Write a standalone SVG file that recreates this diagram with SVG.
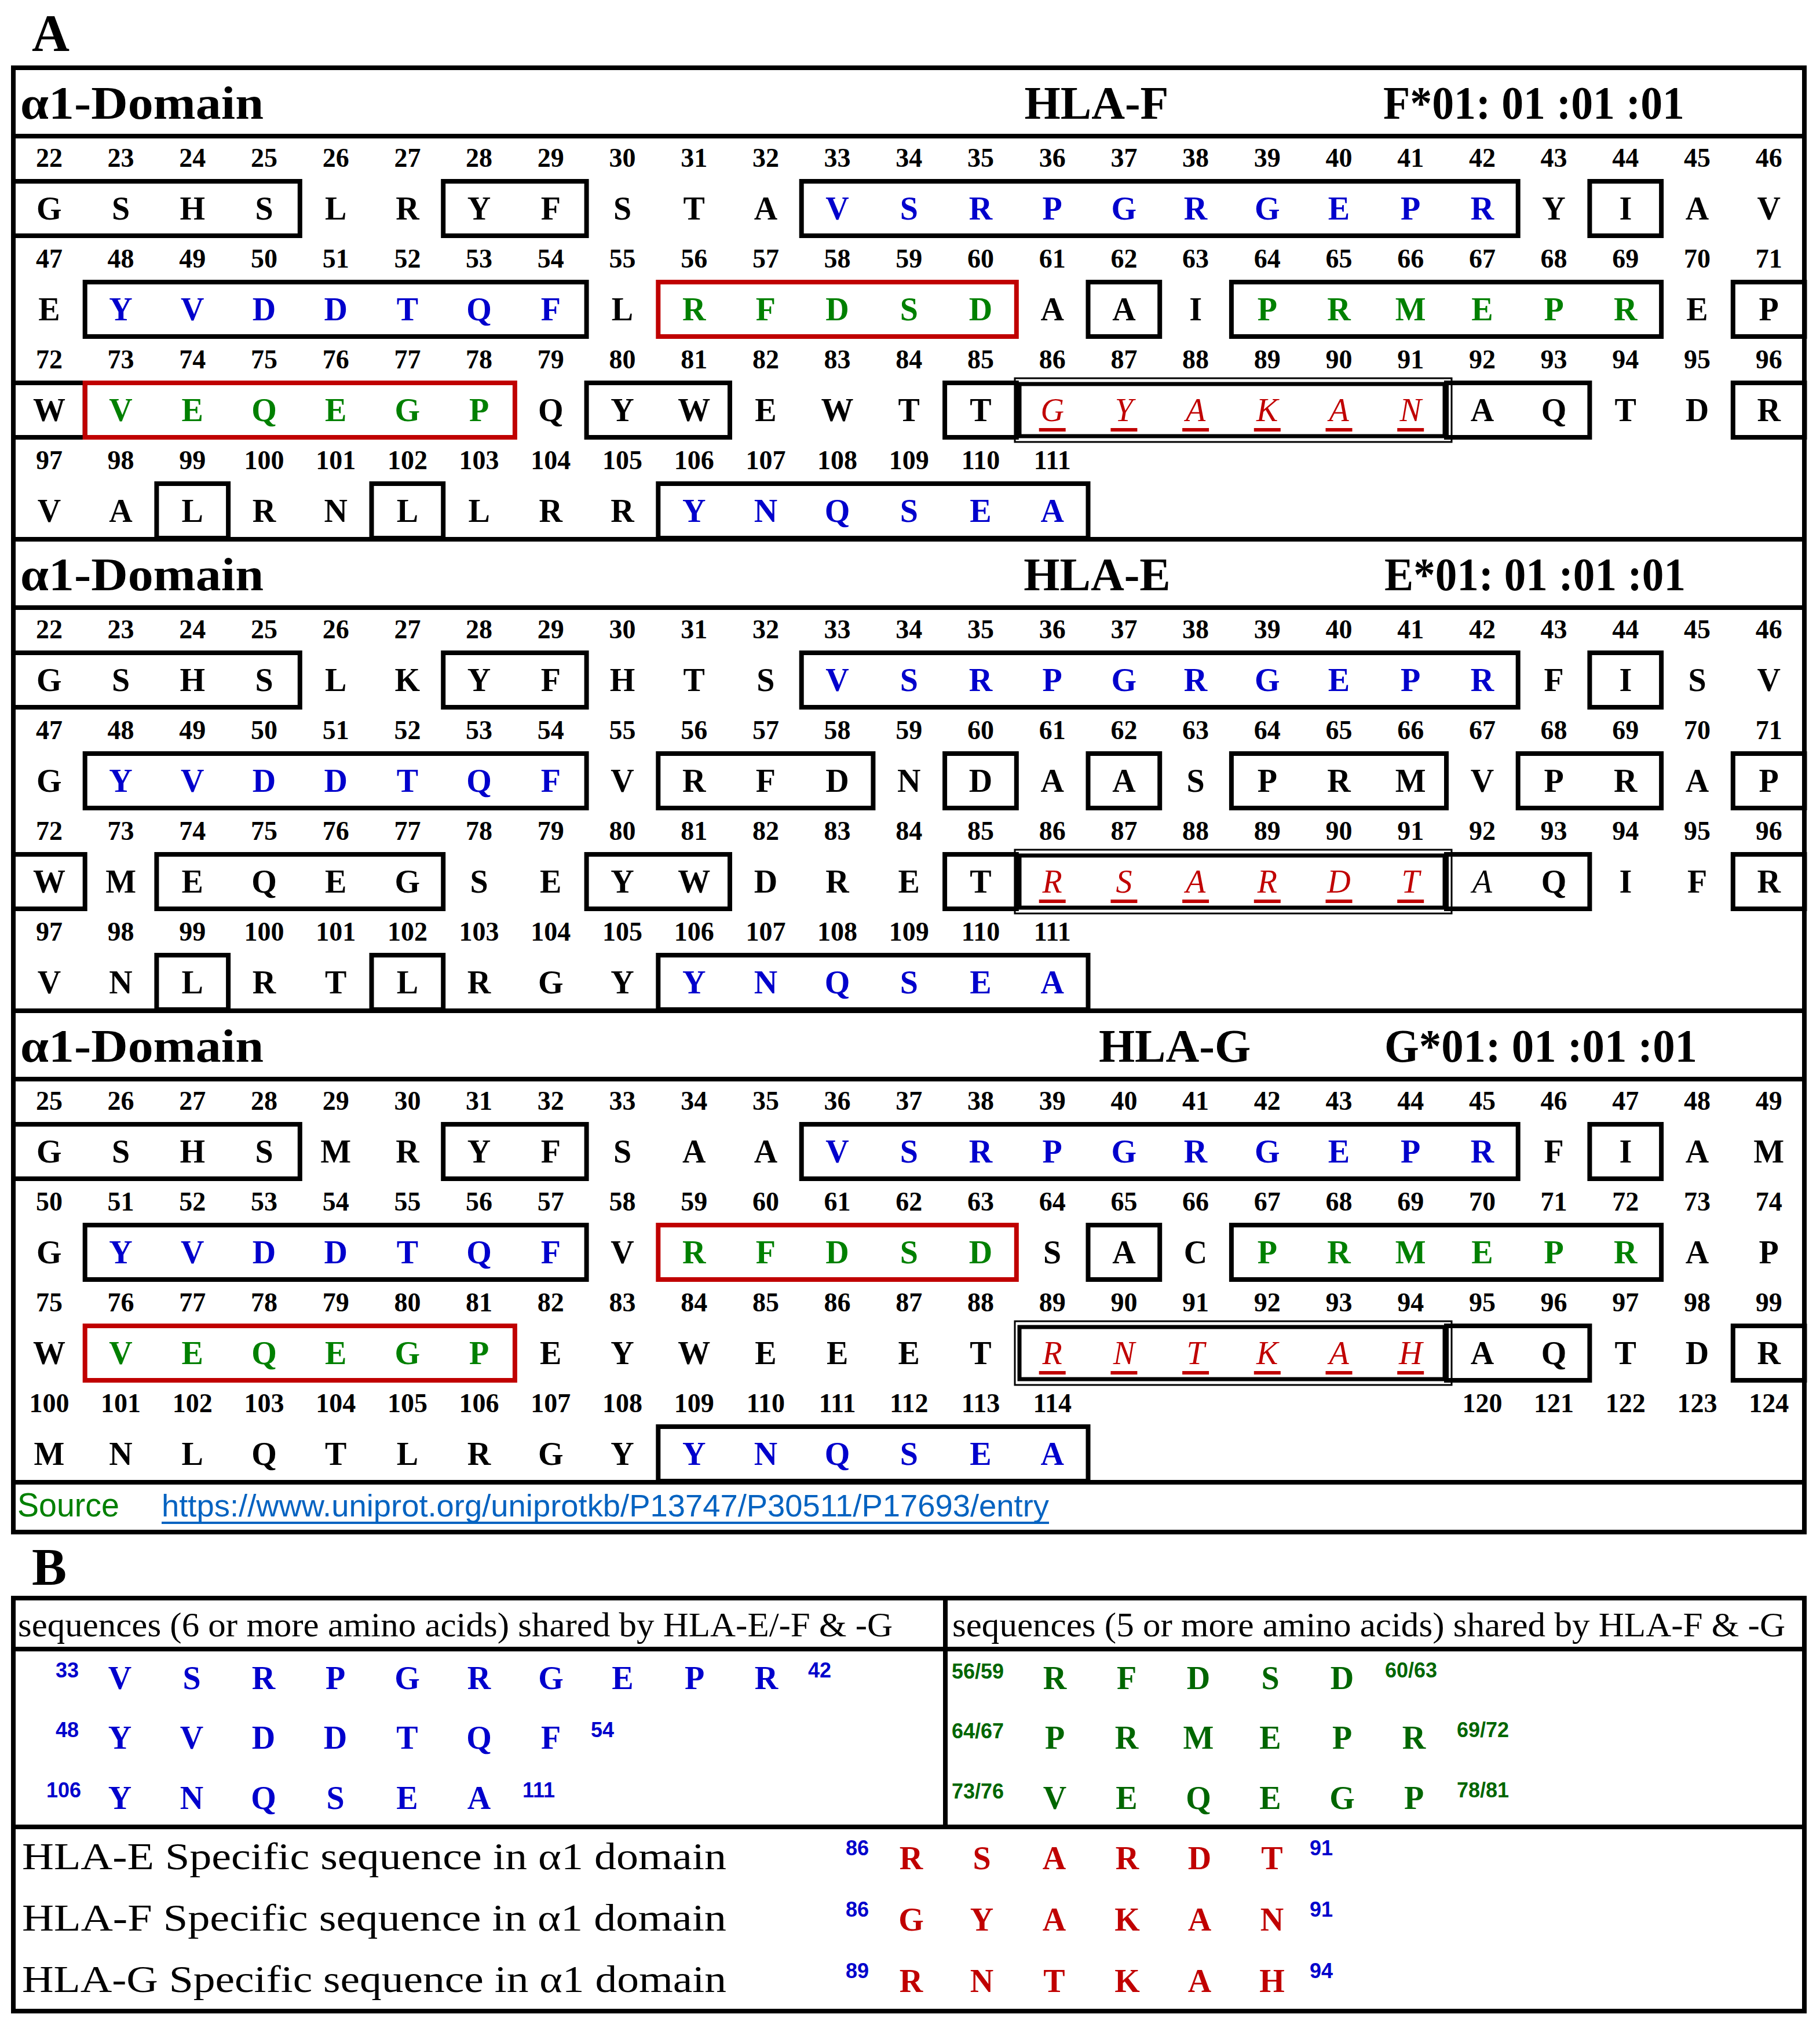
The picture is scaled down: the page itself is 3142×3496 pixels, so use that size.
<svg xmlns="http://www.w3.org/2000/svg" width="3142" height="3496" viewBox="0 0 3142 3496">
<style>
text{font-family:"Liberation Serif","DejaVu Serif",serif}
.n{font-size:46px;font-weight:bold;text-anchor:middle}
.l{font-size:56px;font-weight:bold;text-anchor:middle}
.bl{fill:#0000cc}.gr{fill:#008000}.dg{fill:#006600}.rd{fill:#c00000}
.it{font-style:italic;font-weight:normal}
.hd{font-size:80px;font-weight:bold}
.lbl{font-size:90px;font-weight:bold}
.bx{fill:none;stroke:#000;stroke-width:8}
.rb{fill:none;stroke:#c00000;stroke-width:8}
.ln{stroke:#000;stroke-width:8}
.o1{fill:none;stroke:#000;stroke-width:3}
.o2{fill:none;stroke:#000;stroke-width:7}
.ul{fill:#c00000}
.sn{font-family:"Liberation Sans Narrow","Liberation Sans",sans-serif;font-size:36px;font-weight:bold;text-anchor:middle}
.tb{font-size:60px}
</style>
<defs>
<g id="dbl"><rect class="o1" x="1752" y="-8" width="754" height="110"/><rect class="o2" x="1760" y="2" width="734" height="90"/></g>
</defs>
<text class="lbl" x="55" y="88">A</text>
<g id="frame">
<rect class="bx" x="23" y="117" width="3092" height="2528"/>
<line class="ln" x1="23" y1="235" x2="3115" y2="235"/>
<line class="ln" x1="23" y1="931" x2="3115" y2="931"/>
<line class="ln" x1="23" y1="1049" x2="3115" y2="1049"/>
<line class="ln" x1="23" y1="1745" x2="3115" y2="1745"/>
<line class="ln" x1="23" y1="1863" x2="3115" y2="1863"/>
<line class="ln" x1="23" y1="2559" x2="3115" y2="2559"/>
</g>
<g id="hlaF">
<text class="hd" x="35" y="205" textLength="420" lengthAdjust="spacingAndGlyphs">α1-Domain</text>
<text class="hd" x="1893" y="205" text-anchor="middle">HLA-F</text>
<text class="hd" x="2388" y="205" textLength="520" lengthAdjust="spacingAndGlyphs">F*01: 01 :01 :01</text>
<text class="n" y="288"><tspan x="84.9">22</tspan><tspan x="208.6">23</tspan><tspan x="332.3">24</tspan><tspan x="456">25</tspan><tspan x="579.7">26</tspan><tspan x="703.4">27</tspan><tspan x="827.1">28</tspan><tspan x="950.8">29</tspan><tspan x="1074.5">30</tspan><tspan x="1198.2">31</tspan><tspan x="1321.9">32</tspan><tspan x="1445.6">33</tspan><tspan x="1569.3">34</tspan><tspan x="1693">35</tspan><tspan x="1816.7">36</tspan><tspan x="1940.4">37</tspan><tspan x="2064.1">38</tspan><tspan x="2187.8">39</tspan><tspan x="2311.5">40</tspan><tspan x="2435.2">41</tspan><tspan x="2558.9">42</tspan><tspan x="2682.6">43</tspan><tspan x="2806.3">44</tspan><tspan x="2930">45</tspan><tspan x="3053.7">46</tspan></text>
<text class="l" y="379"><tspan x="84.9 208.6 332.3 456 579.7 703.4 827.1 950.8 1074.5 1198.2 1321.9">GSHSLRYFSTA</tspan><tspan class="bl" x="1445.6 1569.3 1693 1816.7 1940.4 2064.1 2187.8 2311.5 2435.2 2558.9">VSRPGRGEPR</tspan><tspan x="2682.6 2806.3 2930 3053.7">YIAV</tspan></text>
<rect class="bx" x="23" y="313" width="494.8" height="94"/><rect class="bx" x="765.2" y="313" width="247.4" height="94"/><rect class="bx" x="1383.7" y="313" width="1237" height="94"/><rect class="bx" x="2744.4" y="313" width="123.7" height="94"/>
<text class="n" y="462"><tspan x="84.9">47</tspan><tspan x="208.6">48</tspan><tspan x="332.3">49</tspan><tspan x="456">50</tspan><tspan x="579.7">51</tspan><tspan x="703.4">52</tspan><tspan x="827.1">53</tspan><tspan x="950.8">54</tspan><tspan x="1074.5">55</tspan><tspan x="1198.2">56</tspan><tspan x="1321.9">57</tspan><tspan x="1445.6">58</tspan><tspan x="1569.3">59</tspan><tspan x="1693">60</tspan><tspan x="1816.7">61</tspan><tspan x="1940.4">62</tspan><tspan x="2064.1">63</tspan><tspan x="2187.8">64</tspan><tspan x="2311.5">65</tspan><tspan x="2435.2">66</tspan><tspan x="2558.9">67</tspan><tspan x="2682.6">68</tspan><tspan x="2806.3">69</tspan><tspan x="2930">70</tspan><tspan x="3053.7">71</tspan></text>
<text class="l" y="553"><tspan x="84.9">E</tspan><tspan class="bl" x="208.6 332.3 456 579.7 703.4 827.1 950.8">YVDDTQF</tspan><tspan x="1074.5">L</tspan><tspan class="gr" x="1198.2 1321.9 1445.6 1569.3 1693">RFDSD</tspan><tspan x="1816.7 1940.4 2064.1">AAI</tspan><tspan class="gr" x="2187.8 2311.5 2435.2 2558.9 2682.6 2806.3">PRMEPR</tspan><tspan x="2930 3053.7">EP</tspan></text>
<rect class="bx" x="146.7" y="487" width="865.9" height="94"/><rect class="rb" x="1136.3" y="487" width="618.5" height="94"/><rect class="bx" x="1878.5" y="487" width="123.7" height="94"/><rect class="bx" x="2125.9" y="487" width="742.2" height="94"/><rect class="bx" x="2991.8" y="487" width="123.7" height="94"/>
<text class="n" y="636"><tspan x="84.9">72</tspan><tspan x="208.6">73</tspan><tspan x="332.3">74</tspan><tspan x="456">75</tspan><tspan x="579.7">76</tspan><tspan x="703.4">77</tspan><tspan x="827.1">78</tspan><tspan x="950.8">79</tspan><tspan x="1074.5">80</tspan><tspan x="1198.2">81</tspan><tspan x="1321.9">82</tspan><tspan x="1445.6">83</tspan><tspan x="1569.3">84</tspan><tspan x="1693">85</tspan><tspan x="1816.7">86</tspan><tspan x="1940.4">87</tspan><tspan x="2064.1">88</tspan><tspan x="2187.8">89</tspan><tspan x="2311.5">90</tspan><tspan x="2435.2">91</tspan><tspan x="2558.9">92</tspan><tspan x="2682.6">93</tspan><tspan x="2806.3">94</tspan><tspan x="2930">95</tspan><tspan x="3053.7">96</tspan></text>
<text class="l" y="727"><tspan x="84.9">W</tspan><tspan class="gr" x="208.6 332.3 456 579.7 703.4 827.1">VEQEGP</tspan><tspan x="950.8 1074.5 1198.2 1321.9 1445.6 1569.3 1693">QYWEWTT</tspan><tspan class="rd it" x="1816.7 1940.4 2064.1 2187.8 2311.5 2435.2">GYAKAN</tspan><tspan x="2558.9 2682.6 2806.3 2930 3053.7">AQTDR</tspan></text>
<rect class="bx" x="23" y="661" width="123.7" height="94"/><rect class="rb" x="146.7" y="661" width="742.2" height="94"/><rect class="bx" x="1012.6" y="661" width="247.4" height="94"/><rect class="bx" x="1631.1" y="661" width="123.7" height="94"/><use href="#dbl" y="661"/><rect class="bx" x="2497" y="661" width="247.4" height="94"/><rect class="bx" x="2991.8" y="661" width="123.7" height="94"/>
<g class="ul"><rect x="1793.7" y="739" width="46" height="6"/><rect x="1917.4" y="739" width="46" height="6"/><rect x="2041.1" y="739" width="46" height="6"/><rect x="2164.8" y="739" width="46" height="6"/><rect x="2288.5" y="739" width="46" height="6"/><rect x="2412.2" y="739" width="46" height="6"/></g>
<text class="n" y="810"><tspan x="84.9">97</tspan><tspan x="208.6">98</tspan><tspan x="332.3">99</tspan><tspan x="456">100</tspan><tspan x="579.7">101</tspan><tspan x="703.4">102</tspan><tspan x="827.1">103</tspan><tspan x="950.8">104</tspan><tspan x="1074.5">105</tspan><tspan x="1198.2">106</tspan><tspan x="1321.9">107</tspan><tspan x="1445.6">108</tspan><tspan x="1569.3">109</tspan><tspan x="1693">110</tspan><tspan x="1816.7">111</tspan></text>
<text class="l" y="901"><tspan x="84.9 208.6 332.3 456 579.7 703.4 827.1 950.8 1074.5">VALRNLLRR</tspan><tspan class="bl" x="1198.2 1321.9 1445.6 1569.3 1693 1816.7">YNQSEA</tspan></text>
<rect class="bx" x="270.4" y="835" width="123.7" height="94"/><rect class="bx" x="641.5" y="835" width="123.7" height="94"/><rect class="bx" x="1136.3" y="835" width="742.2" height="94"/>
</g>
<g id="hlaE">
<text class="hd" x="35" y="1019" textLength="420" lengthAdjust="spacingAndGlyphs">α1-Domain</text>
<text class="hd" x="1894" y="1019" text-anchor="middle">HLA-E</text>
<text class="hd" x="2390" y="1019" textLength="520" lengthAdjust="spacingAndGlyphs">E*01: 01 :01 :01</text>
<text class="n" y="1102"><tspan x="84.9">22</tspan><tspan x="208.6">23</tspan><tspan x="332.3">24</tspan><tspan x="456">25</tspan><tspan x="579.7">26</tspan><tspan x="703.4">27</tspan><tspan x="827.1">28</tspan><tspan x="950.8">29</tspan><tspan x="1074.5">30</tspan><tspan x="1198.2">31</tspan><tspan x="1321.9">32</tspan><tspan x="1445.6">33</tspan><tspan x="1569.3">34</tspan><tspan x="1693">35</tspan><tspan x="1816.7">36</tspan><tspan x="1940.4">37</tspan><tspan x="2064.1">38</tspan><tspan x="2187.8">39</tspan><tspan x="2311.5">40</tspan><tspan x="2435.2">41</tspan><tspan x="2558.9">42</tspan><tspan x="2682.6">43</tspan><tspan x="2806.3">44</tspan><tspan x="2930">45</tspan><tspan x="3053.7">46</tspan></text>
<text class="l" y="1193"><tspan x="84.9 208.6 332.3 456 579.7 703.4 827.1 950.8 1074.5 1198.2 1321.9">GSHSLKYFHTS</tspan><tspan class="bl" x="1445.6 1569.3 1693 1816.7 1940.4 2064.1 2187.8 2311.5 2435.2 2558.9">VSRPGRGEPR</tspan><tspan x="2682.6 2806.3 2930 3053.7">FISV</tspan></text>
<rect class="bx" x="23" y="1127" width="494.8" height="94"/><rect class="bx" x="765.2" y="1127" width="247.4" height="94"/><rect class="bx" x="1383.7" y="1127" width="1237" height="94"/><rect class="bx" x="2744.4" y="1127" width="123.7" height="94"/>
<text class="n" y="1276"><tspan x="84.9">47</tspan><tspan x="208.6">48</tspan><tspan x="332.3">49</tspan><tspan x="456">50</tspan><tspan x="579.7">51</tspan><tspan x="703.4">52</tspan><tspan x="827.1">53</tspan><tspan x="950.8">54</tspan><tspan x="1074.5">55</tspan><tspan x="1198.2">56</tspan><tspan x="1321.9">57</tspan><tspan x="1445.6">58</tspan><tspan x="1569.3">59</tspan><tspan x="1693">60</tspan><tspan x="1816.7">61</tspan><tspan x="1940.4">62</tspan><tspan x="2064.1">63</tspan><tspan x="2187.8">64</tspan><tspan x="2311.5">65</tspan><tspan x="2435.2">66</tspan><tspan x="2558.9">67</tspan><tspan x="2682.6">68</tspan><tspan x="2806.3">69</tspan><tspan x="2930">70</tspan><tspan x="3053.7">71</tspan></text>
<text class="l" y="1367"><tspan x="84.9">G</tspan><tspan class="bl" x="208.6 332.3 456 579.7 703.4 827.1 950.8">YVDDTQF</tspan><tspan x="1074.5 1198.2 1321.9 1445.6 1569.3 1693 1816.7 1940.4 2064.1 2187.8 2311.5 2435.2 2558.9 2682.6 2806.3 2930 3053.7">VRFDNDAASPRMVPRAP</tspan></text>
<rect class="bx" x="146.7" y="1301" width="865.9" height="94"/><rect class="bx" x="1136.3" y="1301" width="371.1" height="94"/><rect class="bx" x="1631.1" y="1301" width="123.7" height="94"/><rect class="bx" x="1878.5" y="1301" width="123.7" height="94"/><rect class="bx" x="2125.9" y="1301" width="371.1" height="94"/><rect class="bx" x="2620.7" y="1301" width="247.4" height="94"/><rect class="bx" x="2991.8" y="1301" width="123.7" height="94"/>
<text class="n" y="1450"><tspan x="84.9">72</tspan><tspan x="208.6">73</tspan><tspan x="332.3">74</tspan><tspan x="456">75</tspan><tspan x="579.7">76</tspan><tspan x="703.4">77</tspan><tspan x="827.1">78</tspan><tspan x="950.8">79</tspan><tspan x="1074.5">80</tspan><tspan x="1198.2">81</tspan><tspan x="1321.9">82</tspan><tspan x="1445.6">83</tspan><tspan x="1569.3">84</tspan><tspan x="1693">85</tspan><tspan x="1816.7">86</tspan><tspan x="1940.4">87</tspan><tspan x="2064.1">88</tspan><tspan x="2187.8">89</tspan><tspan x="2311.5">90</tspan><tspan x="2435.2">91</tspan><tspan x="2558.9">92</tspan><tspan x="2682.6">93</tspan><tspan x="2806.3">94</tspan><tspan x="2930">95</tspan><tspan x="3053.7">96</tspan></text>
<text class="l" y="1541"><tspan x="84.9 208.6 332.3 456 579.7 703.4 827.1 950.8 1074.5 1198.2 1321.9 1445.6 1569.3 1693">WMEQEGSEYWDRET</tspan><tspan class="rd it" x="1816.7 1940.4 2064.1 2187.8 2311.5 2435.2">RSARDT</tspan><tspan class="it" x="2558.9">A</tspan><tspan x="2682.6 2806.3 2930 3053.7">QIFR</tspan></text>
<rect class="bx" x="23" y="1475" width="123.7" height="94"/><rect class="bx" x="270.4" y="1475" width="494.8" height="94"/><rect class="bx" x="1012.6" y="1475" width="247.4" height="94"/><rect class="bx" x="1631.1" y="1475" width="123.7" height="94"/><use href="#dbl" y="1475"/><rect class="bx" x="2497" y="1475" width="247.4" height="94"/><rect class="bx" x="2991.8" y="1475" width="123.7" height="94"/>
<g class="ul"><rect x="1793.7" y="1553" width="46" height="6"/><rect x="1917.4" y="1553" width="46" height="6"/><rect x="2041.1" y="1553" width="46" height="6"/><rect x="2164.8" y="1553" width="46" height="6"/><rect x="2288.5" y="1553" width="46" height="6"/><rect x="2412.2" y="1553" width="46" height="6"/></g>
<text class="n" y="1624"><tspan x="84.9">97</tspan><tspan x="208.6">98</tspan><tspan x="332.3">99</tspan><tspan x="456">100</tspan><tspan x="579.7">101</tspan><tspan x="703.4">102</tspan><tspan x="827.1">103</tspan><tspan x="950.8">104</tspan><tspan x="1074.5">105</tspan><tspan x="1198.2">106</tspan><tspan x="1321.9">107</tspan><tspan x="1445.6">108</tspan><tspan x="1569.3">109</tspan><tspan x="1693">110</tspan><tspan x="1816.7">111</tspan></text>
<text class="l" y="1715"><tspan x="84.9 208.6 332.3 456 579.7 703.4 827.1 950.8 1074.5">VNLRTLRGY</tspan><tspan class="bl" x="1198.2 1321.9 1445.6 1569.3 1693 1816.7">YNQSEA</tspan></text>
<rect class="bx" x="270.4" y="1649" width="123.7" height="94"/><rect class="bx" x="641.5" y="1649" width="123.7" height="94"/><rect class="bx" x="1136.3" y="1649" width="742.2" height="94"/>
</g>
<g id="hlaG">
<text class="hd" x="35" y="1833" textLength="420" lengthAdjust="spacingAndGlyphs">α1-Domain</text>
<text class="hd" x="2028" y="1833" text-anchor="middle">HLA-G</text>
<text class="hd" x="2390" y="1833" textLength="540" lengthAdjust="spacingAndGlyphs">G*01: 01 :01 :01</text>
<text class="n" y="1916"><tspan x="84.9">25</tspan><tspan x="208.6">26</tspan><tspan x="332.3">27</tspan><tspan x="456">28</tspan><tspan x="579.7">29</tspan><tspan x="703.4">30</tspan><tspan x="827.1">31</tspan><tspan x="950.8">32</tspan><tspan x="1074.5">33</tspan><tspan x="1198.2">34</tspan><tspan x="1321.9">35</tspan><tspan x="1445.6">36</tspan><tspan x="1569.3">37</tspan><tspan x="1693">38</tspan><tspan x="1816.7">39</tspan><tspan x="1940.4">40</tspan><tspan x="2064.1">41</tspan><tspan x="2187.8">42</tspan><tspan x="2311.5">43</tspan><tspan x="2435.2">44</tspan><tspan x="2558.9">45</tspan><tspan x="2682.6">46</tspan><tspan x="2806.3">47</tspan><tspan x="2930">48</tspan><tspan x="3053.7">49</tspan></text>
<text class="l" y="2007"><tspan x="84.9 208.6 332.3 456 579.7 703.4 827.1 950.8 1074.5 1198.2 1321.9">GSHSMRYFSAA</tspan><tspan class="bl" x="1445.6 1569.3 1693 1816.7 1940.4 2064.1 2187.8 2311.5 2435.2 2558.9">VSRPGRGEPR</tspan><tspan x="2682.6 2806.3 2930 3053.7">FIAM</tspan></text>
<rect class="bx" x="23" y="1941" width="494.8" height="94"/><rect class="bx" x="765.2" y="1941" width="247.4" height="94"/><rect class="bx" x="1383.7" y="1941" width="1237" height="94"/><rect class="bx" x="2744.4" y="1941" width="123.7" height="94"/>
<text class="n" y="2090"><tspan x="84.9">50</tspan><tspan x="208.6">51</tspan><tspan x="332.3">52</tspan><tspan x="456">53</tspan><tspan x="579.7">54</tspan><tspan x="703.4">55</tspan><tspan x="827.1">56</tspan><tspan x="950.8">57</tspan><tspan x="1074.5">58</tspan><tspan x="1198.2">59</tspan><tspan x="1321.9">60</tspan><tspan x="1445.6">61</tspan><tspan x="1569.3">62</tspan><tspan x="1693">63</tspan><tspan x="1816.7">64</tspan><tspan x="1940.4">65</tspan><tspan x="2064.1">66</tspan><tspan x="2187.8">67</tspan><tspan x="2311.5">68</tspan><tspan x="2435.2">69</tspan><tspan x="2558.9">70</tspan><tspan x="2682.6">71</tspan><tspan x="2806.3">72</tspan><tspan x="2930">73</tspan><tspan x="3053.7">74</tspan></text>
<text class="l" y="2181"><tspan x="84.9">G</tspan><tspan class="bl" x="208.6 332.3 456 579.7 703.4 827.1 950.8">YVDDTQF</tspan><tspan x="1074.5">V</tspan><tspan class="gr" x="1198.2 1321.9 1445.6 1569.3 1693">RFDSD</tspan><tspan x="1816.7 1940.4 2064.1">SAC</tspan><tspan class="gr" x="2187.8 2311.5 2435.2 2558.9 2682.6 2806.3">PRMEPR</tspan><tspan x="2930 3053.7">AP</tspan></text>
<rect class="bx" x="146.7" y="2115" width="865.9" height="94"/><rect class="rb" x="1136.3" y="2115" width="618.5" height="94"/><rect class="bx" x="1878.5" y="2115" width="123.7" height="94"/><rect class="bx" x="2125.9" y="2115" width="742.2" height="94"/>
<text class="n" y="2264"><tspan x="84.9">75</tspan><tspan x="208.6">76</tspan><tspan x="332.3">77</tspan><tspan x="456">78</tspan><tspan x="579.7">79</tspan><tspan x="703.4">80</tspan><tspan x="827.1">81</tspan><tspan x="950.8">82</tspan><tspan x="1074.5">83</tspan><tspan x="1198.2">84</tspan><tspan x="1321.9">85</tspan><tspan x="1445.6">86</tspan><tspan x="1569.3">87</tspan><tspan x="1693">88</tspan><tspan x="1816.7">89</tspan><tspan x="1940.4">90</tspan><tspan x="2064.1">91</tspan><tspan x="2187.8">92</tspan><tspan x="2311.5">93</tspan><tspan x="2435.2">94</tspan><tspan x="2558.9">95</tspan><tspan x="2682.6">96</tspan><tspan x="2806.3">97</tspan><tspan x="2930">98</tspan><tspan x="3053.7">99</tspan></text>
<text class="l" y="2355"><tspan x="84.9">W</tspan><tspan class="gr" x="208.6 332.3 456 579.7 703.4 827.1">VEQEGP</tspan><tspan x="950.8 1074.5 1198.2 1321.9 1445.6 1569.3 1693">EYWEEET</tspan><tspan class="rd it" x="1816.7 1940.4 2064.1 2187.8 2311.5 2435.2">RNTKAH</tspan><tspan x="2558.9 2682.6 2806.3 2930 3053.7">AQTDR</tspan></text>
<rect class="rb" x="146.7" y="2289" width="742.2" height="94"/><use href="#dbl" y="2289"/><rect class="bx" x="2497" y="2289" width="247.4" height="94"/><rect class="bx" x="2991.8" y="2289" width="123.7" height="94"/>
<g class="ul"><rect x="1793.7" y="2367" width="46" height="6"/><rect x="1917.4" y="2367" width="46" height="6"/><rect x="2041.1" y="2367" width="46" height="6"/><rect x="2164.8" y="2367" width="46" height="6"/><rect x="2288.5" y="2367" width="46" height="6"/><rect x="2412.2" y="2367" width="46" height="6"/></g>
<text class="n" y="2438"><tspan x="84.9">100</tspan><tspan x="208.6">101</tspan><tspan x="332.3">102</tspan><tspan x="456">103</tspan><tspan x="579.7">104</tspan><tspan x="703.4">105</tspan><tspan x="827.1">106</tspan><tspan x="950.8">107</tspan><tspan x="1074.5">108</tspan><tspan x="1198.2">109</tspan><tspan x="1321.9">110</tspan><tspan x="1445.6">111</tspan><tspan x="1569.3">112</tspan><tspan x="1693">113</tspan><tspan x="1816.7">114</tspan><tspan x="2558.9">120</tspan><tspan x="2682.6">121</tspan><tspan x="2806.3">122</tspan><tspan x="2930">123</tspan><tspan x="3053.7">124</tspan></text>
<text class="l" y="2529"><tspan x="84.9 208.6 332.3 456 579.7 703.4 827.1 950.8 1074.5">MNLQTLRGY</tspan><tspan class="bl" x="1198.2 1321.9 1445.6 1569.3 1693 1816.7">YNQSEA</tspan></text>
<rect class="bx" x="1136.3" y="2463" width="742.2" height="94"/>
</g>
<g id="source">
<text x="30" y="2618" fill="#008000" font-size="58" textLength="176" lengthAdjust="spacingAndGlyphs" style="font-family:'Liberation Sans',sans-serif">Source</text>
<text x="279" y="2618" fill="#0563c1" font-size="54" textLength="1532" lengthAdjust="spacingAndGlyphs" style="font-family:'Liberation Sans',sans-serif">https://www.uniprot.org/uniprotkb/P13747/P30511/P17693/entry</text>
<rect x="279" y="2627" width="1532" height="4" fill="#0563c1"/>
</g>
<text class="lbl" x="55" y="2736">B</text>
<g id="tableB">
<rect class="bx" x="23" y="2759" width="3092" height="713"/>
<line class="ln" x1="23" y1="2847" x2="3115" y2="2847"/>
<line class="ln" x1="23" y1="3154" x2="3115" y2="3154"/>
<line class="ln" x1="1632" y1="2759" x2="1632" y2="3154"/>
<text class="tb" x="31" y="2825" textLength="1510" lengthAdjust="spacingAndGlyphs">sequences (6 or more amino acids) shared by HLA-E/-F &amp; -G</text>
<text class="tb" x="1644" y="2825" textLength="1438" lengthAdjust="spacingAndGlyphs">sequences (5 or more amino acids) shared by HLA-F &amp; -G</text>
<g class="bl">
<text class="sn" x="116" y="2896">33</text><text class="sn" x="1415" y="2896">42</text>
<text class="sn" x="116" y="2999">48</text><text class="sn" x="1040" y="2999">54</text>
<text class="sn" x="110" y="3103">106</text><text class="sn" x="930" y="3103">111</text>
<text class="l" x="207 331 455 579 703 827 951 1075 1199 1323" y="2916">VSRPGRGEPR</text>
<text class="l" x="207 331 455 579 703 827 951" y="3019">YVDDTQF</text>
<text class="l" x="207 331 455 579 703 827" y="3123">YNQSEA</text>
</g>
<g class="dg">
<text class="sn" x="1688" y="2898">56/59</text><text class="sn" x="2436" y="2896">60/63</text>
<text class="sn" x="1688" y="3001">64/67</text><text class="sn" x="2560" y="2999">69/72</text>
<text class="sn" x="1688" y="3105">73/76</text><text class="sn" x="2560" y="3103">78/81</text>
<text class="l" x="1821 1945 2069 2193 2317" y="2916">RFDSD</text>
<text class="l" x="1821 1945 2069 2193 2317 2441" y="3019">PRMEPR</text>
<text class="l" x="1821 1945 2069 2193 2317 2441" y="3123">VEQEGP</text>
</g>
<text font-size="66" x="38" y="3227" textLength="1216" lengthAdjust="spacingAndGlyphs">HLA-E Specific sequence in α1 domain</text>
<text font-size="66" x="38" y="3333" textLength="1216" lengthAdjust="spacingAndGlyphs">HLA-F Specific sequence in α1 domain</text>
<text font-size="66" x="38" y="3439" textLength="1216" lengthAdjust="spacingAndGlyphs">HLA-G Specific sequence in α1 domain</text>
<g class="bl">
<text class="sn" x="1480" y="3203">86</text><text class="sn" x="2281" y="3203">91</text>
<text class="sn" x="1480" y="3309">86</text><text class="sn" x="2281" y="3309">91</text>
<text class="sn" x="1480" y="3415">89</text><text class="sn" x="2281" y="3415">94</text>
</g>
<g class="rd">
<text class="l" x="1573 1695 1820 1946 2071 2196" y="3227">RSARDT</text>
<text class="l" x="1573 1695 1820 1946 2071 2196" y="3333">GYAKAN</text>
<text class="l" x="1573 1695 1820 1946 2071 2196" y="3439">RNTKAH</text>
</g>
</g>
</svg>
